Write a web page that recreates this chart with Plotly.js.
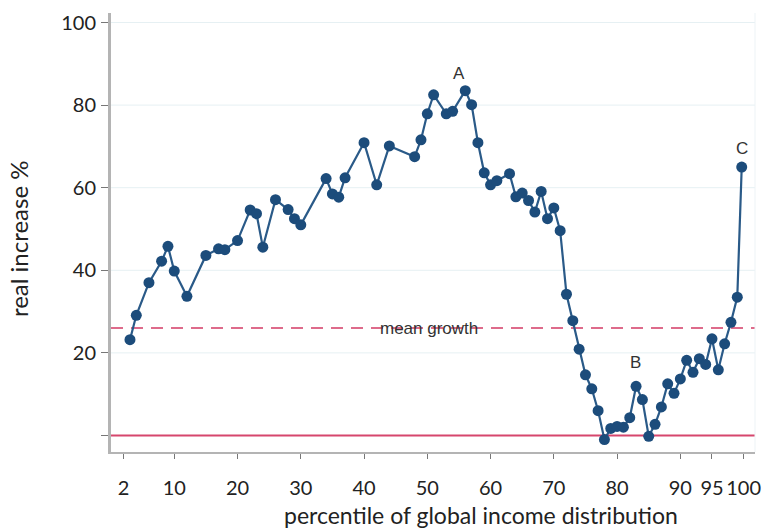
<!DOCTYPE html>
<html>
<head>
<meta charset="utf-8">
<script src="https://cdn.plot.ly/plotly-3.0.1.min.js"></script>
<style>
  html, body { margin: 0; padding: 0; background: #ffffff; }
  #chart { width: 772px; height: 528px; }
</style>
</head>
<body>
<div id="chart"></div>
<script>
// Percentile groups of the global income distribution
const percentile = [
  3, 4, 6, 8, 9, 10, 12, 15, 17, 18,
  20, 22, 23, 24, 26, 28, 29, 30, 34, 35,
  36, 37, 40, 42, 44, 48, 49, 50, 51, 53,
  54, 56, 57, 58, 59, 60, 61, 63, 64, 65,
  66, 67, 68, 69, 70, 71, 72, 73, 74, 75,
  76, 77, 78, 79, 80, 81, 82, 83, 84, 85,
  86, 87, 88, 89, 90, 91, 92, 93, 94, 95,
  96, 97, 98, 99, 99.7
];

// Real income increase, %
const realIncrease = [
  23.2, 29.1, 37.0, 42.2, 45.8, 39.8, 33.7, 43.6, 45.2, 45.0,
  47.2, 54.6, 53.7, 45.6, 57.1, 54.7, 52.5, 51.0, 62.2, 58.5,
  57.7, 62.4, 70.9, 60.7, 70.1, 67.5, 71.6, 77.9, 82.5, 77.9,
  78.5, 83.5, 80.1, 70.9, 63.6, 60.7, 61.7, 63.4, 57.8, 58.7,
  56.9, 54.1, 59.1, 52.5, 55.1, 49.6, 34.2, 27.8, 20.9, 14.7,
  11.3, 6.0, -1.0, 1.7, 2.2, 2.0, 4.3, 11.9, 8.7, -0.2,
  2.7, 6.9, 12.5, 10.2, 13.7, 18.2, 15.3, 18.6, 17.2, 23.4,
  15.9, 22.2, 27.4, 33.5, 65.0
];

const meanGrowth = 26;

const xTickVals = [2, 10, 20, 30, 40, 50, 60, 70, 80, 90, 95, 100];
const yTickVals = [0, 20, 40, 60, 80, 100];
const yTickText = ['', '20', '40', '60', '80', '100'];
const yGridVals = [20, 40, 60, 80, 100];

// Labelled points of interest
const markLabels = ['A', 'B', 'C'];
const markX = [55, 82.9, 99.8];
const markY = [87.7, 17.7, 69.5];

const navy = '#1c4c7b';
const textFamily = 'Lato, sans-serif';
const labelFont = { family: 'Liberation Sans, Arial, sans-serif', size: 17, color: '#333333' };
const tickFont = { family: textFamily, size: 20, color: '#222222' };
const titleFont = { family: textFamily, size: 23, color: '#222222' };

const trace = {
  type: 'scatter',
  mode: 'lines+markers',
  x: percentile,
  y: realIncrease,
  line: { color: '#2a5a88', width: 2.2 },
  marker: { color: navy, size: 11 },
  hoverinfo: 'x+y',
  showlegend: false
};

const annotations = markLabels.map((t, i) => ({
  x: markX[i], y: markY[i], xref: 'x', yref: 'y',
  text: t, showarrow: false, font: labelFont
}));

annotations.push({
  x: 50.2, y: meanGrowth, xref: 'x', yref: 'y',
  text: 'mean growth', showarrow: false, font: labelFont
});

// Axis titles
annotations.push({
  x: 0.5745, y: -0.144, xref: 'paper', yref: 'paper',
  xanchor: 'center', yanchor: 'middle',
  text: 'percentile of global income distribution', showarrow: false,
  font: titleFont
});
annotations.push({
  x: -0.1444, y: 0.485, xref: 'paper', yref: 'paper',
  xanchor: 'center', yanchor: 'middle', textangle: -90,
  text: 'real increase %', showarrow: false,
  font: { family: textFamily, size: 24, color: '#222222' }
});

// Light horizontal gridlines, then the zero line and the mean-growth line
const shapes = yGridVals.map(v => ({
  type: 'line', xref: 'paper', yref: 'y',
  x0: 0, x1: 1, y0: v, y1: v,
  line: { color: '#e6f0f3', width: 1 },
  layer: 'below'
}));
shapes.push({
  type: 'line', xref: 'paper', yref: 'y',
  x0: 0, x1: 1, y0: 0, y1: 0,
  line: { color: '#d6466d', width: 2 },
  layer: 'below'
});
shapes.push({
  type: 'line', xref: 'paper', yref: 'y',
  x0: 0, x1: 1, y0: meanGrowth, y1: meanGrowth,
  line: { color: '#de6b8b', width: 2, dash: '12px,8px' },
  layer: 'below'
});
shapes.push({
  type: 'line', xref: 'paper', yref: 'paper',
  x0: 1, x1: 1, y0: 0, y1: 1,
  line: { color: '#edf3f6', width: 1 },
  layer: 'below'
});

const layout = {
  width: 772,
  height: 528,
  margin: { l: 111, r: 17, t: 13, b: 76 },
  paper_bgcolor: '#ffffff',
  plot_bgcolor: '#ffffff',
  font: { family: textFamily, size: 18, color: '#222222' },
  xaxis: {
    range: [0, 101.8],
    tickmode: 'array',
    tickvals: xTickVals,
    ticks: 'outside',
    ticklen: 5,
    tickwidth: 1,
    tickcolor: '#777777',
    ticklabelstandoff: 12,
    showgrid: false,
    zeroline: false,
    showline: true,
    linecolor: '#b4b4b4',
    linewidth: 2,
    tickfont: tickFont
  },
  yaxis: {
    range: [-4, 102.3],
    tickmode: 'array',
    tickvals: yTickVals,
    ticktext: yTickText,
    ticks: 'outside',
    ticklen: 7,
    tickwidth: 1,
    tickcolor: '#777777',
    ticklabelstandoff: 1,
    showgrid: false,
    zeroline: false,
    showline: true,
    linecolor: '#b4b4b4',
    linewidth: 3,
    tickfont: tickFont
  },
  shapes: shapes,
  annotations: annotations
};

Plotly.newPlot('chart', [trace], layout, { displayModeBar: false, staticPlot: true });
</script>
</body>
</html>
